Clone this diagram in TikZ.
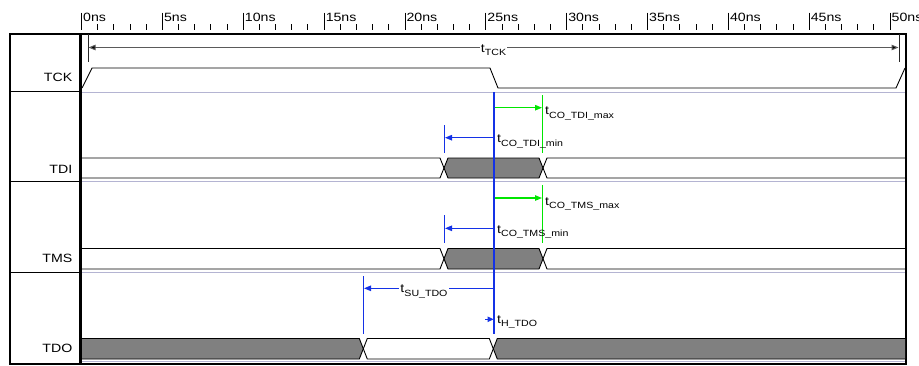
\documentclass[tikz,border=0pt]{standalone}
\usepackage{fontspec}
\setmainfont[FakeStretch=1.18]{Liberation Sans}
\usetikzlibrary{arrows.meta}
\definecolor{sigblue}{RGB}{20,50,230}
\definecolor{siggreen}{RGB}{0,230,0}
\definecolor{sepline}{RGB}{180,180,210}
\definecolor{busgrey}{RGB}{128,128,128}
\definecolor{dimgrey}{RGB}{90,90,90}
\newcommand{\tsub}[1]{t\raisebox{-3.5pt}{\fontsize{9}{9}\selectfont #1}}
\tikzset{
  tip/.style={-{Triangle[length=7pt,width=5.5pt]}},
  sigline/.style={line width=0.9pt, black},
  sigfill/.style={fill=busgrey, draw=black, line width=0.9pt},
  lbl/.style={anchor=base east, inner sep=0pt},
  tlbl/.style={anchor=base west, inner sep=0pt},
  bluemark/.style={sigblue, line width=1.1pt},
  greenmark/.style={siggreen, line width=1.1pt},
}
\begin{document}
\begin{tikzpicture}[x=1pt,y=-1pt,font=\fontsize{12}{14}\selectfont]
\useasboundingbox (0,0) rectangle (919,365);
% ruler
\foreach \t in {0,...,49} {
  \pgfmathsetmacro\xx{81.5+16.17*\t}
  \draw[line width=0.8pt] (\xx,24) -- (\xx,30);
}
\foreach \t in {0,5,...,50} {
  \pgfmathsetmacro\xx{81.5+16.17*\t}
  \draw[line width=0.8pt] (\xx,12.5) -- (\xx,30);
  \node[tlbl] (r\t) at (\xx+1.5,21) {\t ns};
}
% separators
\foreach \yy in {92,181.5,272.5,361.5} {
  \draw[sepline, line width=1pt] (82,\yy) -- (905,\yy);
}
\foreach \yy in {91,181.7,272.7} {
  \draw[line width=0.8pt] (10,\yy) -- (79,\yy);
}
% frame
\draw[line width=2pt] (10,33.5) rectangle (906,363.5);
\draw[line width=3pt] (80,33.5) -- (80,363.5);
% signal names
\node[lbl] (nTCK) at (72.5,81) {TCK};
\node[lbl] (nTDI) at (72.5,173.3) {TDI};
\node[lbl] (nTMS) at (72.5,262.7) {TMS};
\node[lbl] (nTDO) at (72.5,352.3) {TDO};
% TCK waveform
\draw[sigline] (82,88) -- (92,68) -- (490,68) -- (498,88) -- (896,88) -- (905,68);
% tTCK
\draw[black!85, line width=1pt] (88,34) -- (88,62);
\draw[black!85, line width=1pt] (899,34) -- (899,62);
\coordinate (tckL) at (88.5,47.5);
\coordinate (tckR) at (898.5,47.5);
\draw[dimgrey, line width=1pt, {Triangle[length=7pt,width=5.5pt,fill=black]}-{Triangle[length=7pt,width=5.5pt,fill=black]}] (tckL) -- (tckR);
\node[anchor=base, fill=white, inner sep=1pt] (ltck) at (493.5,52) {\tsub{TCK}};
% TDI bus
\fill[busgrey] (444,168) -- (448,158) -- (539,158) -- (543,168) -- (539,178) -- (448,178) -- cycle;
\draw[sigline] (82,158) -- (440,158) -- (448,178) -- (539,178) -- (547,158) -- (905,158);
\draw[sigline] (82,178) -- (440,178) -- (448,158) -- (539,158) -- (547,178) -- (905,178);
% TMS bus
\fill[busgrey] (444,258.75) -- (448,248.5) -- (539,248.5) -- (543,258.75) -- (539,269) -- (448,269) -- cycle;
\draw[sigline] (82,248.5) -- (440,248.5) -- (448,269) -- (539,269) -- (547,248.5) -- (905,248.5);
\draw[sigline] (82,269) -- (440,269) -- (448,248.5) -- (539,248.5) -- (547,269) -- (905,269);
% TDO bus
\fill[busgrey] (82,338.5) -- (359.3,338.5) -- (363.3,348.75) -- (359.3,359) -- (82,359) -- cycle;
\fill[busgrey] (905,338.5) -- (497.3,338.5) -- (493.3,348.75) -- (497.3,359) -- (905,359) -- cycle;
\draw[sigline] (82,338.5) -- (359.3,338.5) -- (367.3,359) -- (489.3,359) -- (497.3,338.5) -- (905,338.5);
\draw[sigline] (82,359) -- (359.3,359) -- (367.3,338.5) -- (489.3,338.5) -- (497.3,359) -- (905,359);
% reference line
\coordinate (refTop) at (494,92);
\coordinate (refBot) at (494,334);
\draw[bluemark] (refTop) -- (refBot);
% TDI markers
\draw[greenmark] (542.7,95) -- (542.7,153);
\coordinate (gTDIa) at (494.5,107.7);
\coordinate (gTDIb) at (542,107.7);
\draw[greenmark, tip] (gTDIa) -- (gTDIb);
\node[tlbl] (lTDImax) at (545,114.5) {\tsub{CO\_TDI\_max}};
\draw[bluemark] (444.3,125) -- (444.3,153);
\coordinate (bTDIa) at (494,137.7);
\coordinate (bTDIb) at (445,137.7);
\draw[bluemark, tip] (bTDIa) -- (bTDIb);
\node[tlbl] (lTDImin) at (497,142.5) {\tsub{CO\_TDI\_min}};
% TMS markers
\draw[greenmark] (542.7,185) -- (542.7,243);
\coordinate (gTMSa) at (494.5,198);
\coordinate (gTMSb) at (542,198);
\draw[greenmark, tip] (gTMSa) -- (gTMSb);
\node[tlbl] (lTMSmax) at (545,205) {\tsub{CO\_TMS\_max}};
\draw[bluemark] (444.3,215) -- (444.3,243);
\coordinate (bTMSa) at (494,228.3);
\coordinate (bTMSb) at (445,228.3);
\draw[bluemark, tip] (bTMSa) -- (bTMSb);
\node[tlbl] (lTMSmin) at (497,233.3) {\tsub{CO\_TMS\_min}};
% TDO markers
\draw[bluemark] (363.3,276) -- (363.3,334);
\coordinate (suA) at (494,288.3);
\coordinate (suB) at (364,288.3);
\draw[bluemark, tip] (suA) -- (suB);
\node[anchor=base, fill=white, inner sep=1pt] (lSU) at (424,292.5) {\tsub{SU\_TDO}};
\coordinate (hA) at (485,319.3);
\coordinate (hB) at (493.5,319.3);
\draw[bluemark, -{Triangle[length=6pt,width=5.5pt]}] (hA) -- (hB);
\node[tlbl] (lH) at (497,323.3) {\tsub{H\_TDO}};
\end{tikzpicture}
\end{document}
